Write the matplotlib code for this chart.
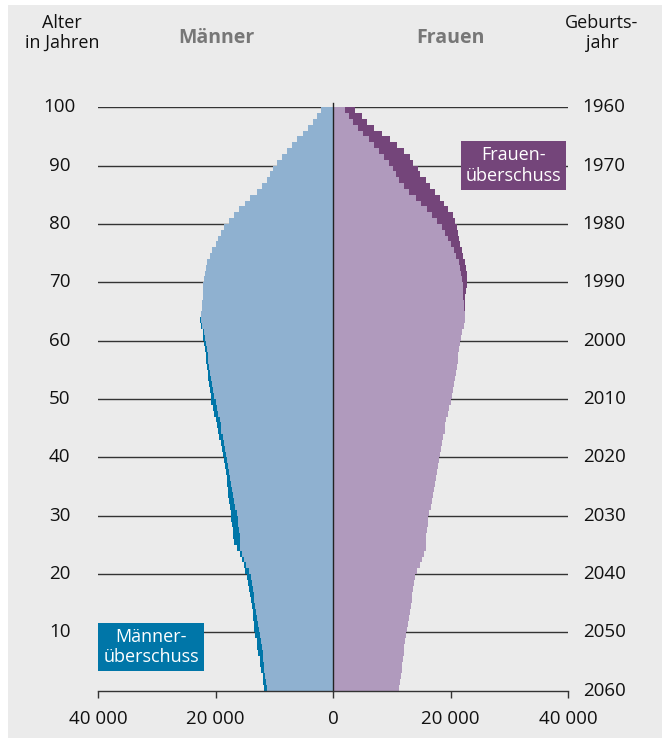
import numpy as np
import matplotlib.pyplot as plt
from matplotlib.patches import Rectangle

# Bevoelkerung 2060 nach Alter (0..99), in Tausend
ages = np.arange(0, 100)
maenner = [11.7, 11.9, 12.0, 12.2, 12.4, 12.5, 12.7, 12.9, 13.0, 13.2,
           13.4, 13.5, 13.6, 13.7, 13.8, 14.0, 14.2, 14.3, 14.5, 14.7,
           15.0, 15.1, 15.5, 15.9, 16.4, 16.9, 17.0, 17.1, 17.2, 17.3,
           17.4, 17.5, 17.7, 17.8, 17.9, 18.0, 18.1, 18.2, 18.3, 18.5,
           18.7, 18.9, 19.1, 19.4, 19.6, 19.8, 20.0, 20.3, 20.5, 20.7,
           20.8, 20.9, 21.1, 21.2, 21.3, 21.4, 21.6, 21.7, 21.8, 21.9,
           22.1, 22.2, 22.4, 22.6, 22.5, 22.3, 22.3, 22.2, 22.1, 22.1,
           22.0, 21.8, 21.7, 21.4, 21.0, 20.6, 20.0, 19.5, 19.1, 18.5,
           17.7, 16.8, 16.0, 15.0, 14.1, 13.0, 12.1, 11.3, 10.7, 10.2,
           9.5, 8.7, 7.9, 6.9, 6.1, 5.1, 4.2, 3.4, 2.7, 2.0]
frauen = [11.3, 11.4, 11.5, 11.7, 11.8, 11.9, 12.0, 12.1, 12.3, 12.4,
          12.6, 12.8, 13.0, 13.1, 13.2, 13.4, 13.5, 13.6, 13.8, 14.0,
          14.3, 14.8, 15.2, 15.5, 15.8, 15.9, 15.9, 16.0, 16.1, 16.2,
          16.4, 16.6, 16.8, 17.0, 17.2, 17.3, 17.5, 17.7, 17.8, 18.0,
          18.2, 18.4, 18.6, 18.7, 19.0, 19.1, 19.3, 19.5, 19.8, 20.0,
          20.3, 20.4, 20.6, 20.7, 20.9, 21.1, 21.2, 21.3, 21.4, 21.6,
          21.8, 22.0, 22.3, 22.5, 22.5, 22.5, 22.5, 22.5, 22.6, 22.8,
          22.8, 22.8, 22.6, 22.5, 22.2, 21.9, 21.7, 21.5, 21.3, 21.1,
          20.8, 20.5, 19.6, 18.9, 18.2, 17.4, 16.5, 15.8, 14.8, 14.5,
          13.7, 13.1, 12.1, 10.9, 9.7, 8.3, 7.0, 5.8, 4.9, 3.7]

age_ticks = [100, 90, 80, 70, 60, 50, 40, 30, 20, 10]
year_ticks = [1960, 1970, 1980, 1990, 2000, 2010, 2020, 2030, 2040, 2050, 2060]
x_ticks = [-40000, -20000, 0, 20000, 40000]
x_labels = ["40 000", "20 000", "0", "20 000", "40 000"]

m = np.array(maenner) * 1000
f = np.array(frauen) * 1000
both = np.minimum(m, f)

col_m_light = "#8fb1d0"
col_m_dark = "#0076a8"
col_f_light = "#b09abd"
col_f_dark = "#74457a"
bg = "#ebebeb"

plt.rcParams['font.family'] = ['Open Sans', 'DejaVu Sans']

W, H = 662, 738
fig = plt.figure(figsize=(W / 100, H / 100), dpi=100, facecolor="white")
fig.patches.append(Rectangle((8 / W, 0), 1, 1 - 5 / H, transform=fig.transFigure,
                             facecolor=bg, edgecolor="none", zorder=-10))

def fx(x):
    return x / W

def fy(y):
    return 1 - y / H

ax = fig.add_axes([fx(98), fy(690.7), fx(568) - fx(98), fy(107.3) - fy(690.7)])
ax.set_facecolor("none")
ax.set_xlim(-40000, 40000)
ax.set_ylim(0, 100)

# grid lines behind bars
for a in age_ticks:
    ax.plot([-40000, 40000], [a, a], color="#333333", lw=1, zorder=1)

y = ages + 0.5
ax.barh(y, -m, height=1.0, color=col_m_dark, linewidth=0, zorder=2)
ax.barh(y, -both, height=1.0, color=col_m_light, linewidth=0, zorder=3)
ax.barh(y, f, height=1.0, color=col_f_dark, linewidth=0, zorder=2)
ax.barh(y, both, height=1.0, color=col_f_light, linewidth=0, zorder=3)

ax.plot([0, 0], [0, 100.7], color="#222222", lw=1, zorder=5, clip_on=False)
ax.plot([-40000, 40000], [0, 0], color="#333333", lw=1, zorder=5, clip_on=False)

for s in ax.spines.values():
    s.set_visible(False)
ax.set_yticks([])
ax.set_xticks(x_ticks)
ax.set_xticklabels(x_labels, fontsize=13.5, color="#111111")
ax.tick_params(axis="x", length=5, width=1, color="#333333", pad=9)

# left age labels, right birth years
for a in age_ticks:
    ax.text(-46500, a, str(a), ha="center", va="center", fontsize=13.5, color="#111111")
for a, yr in zip(range(100, -1, -10), year_ticks):
    ax.text(42500, a, str(yr), ha="left", va="center", fontsize=13.5, color="#111111")

fig.text(fx(62), fy(33), "Alter\nin Jahren", ha="center", va="center", fontsize=13,
         linespacing=1.15, color="#111111")
fig.text(fx(602), fy(33), "Geburts-\njahr", ha="center", va="center", fontsize=13,
         linespacing=1.15, color="#111111")
fig.text(fx(216), fy(38), "Männer", ha="center", va="center", fontsize=14,
         fontweight="bold", color="#777777")
fig.text(fx(450), fy(38), "Frauen", ha="center", va="center", fontsize=14,
         fontweight="bold", color="#777777")

# Ueberschuss-Kaesten
fig.patches.append(Rectangle((fx(461), fy(190)), fx(566) - fx(461), fy(141) - fy(190),
                             transform=fig.transFigure, facecolor=col_f_dark,
                             edgecolor="none", zorder=5))
fig.text(fx(513.5), fy(165.5), "Frauen-\nüberschuss", ha="center", va="center",
         fontsize=13, linespacing=1.15, color="white", zorder=6)
fig.patches.append(Rectangle((fx(98), fy(671)), fx(204) - fx(98), fy(623) - fy(671),
                             transform=fig.transFigure, facecolor=col_m_dark,
                             edgecolor="none", zorder=5))
fig.text(fx(151), fy(647), "Männer-\nüberschuss", ha="center", va="center",
         fontsize=13, linespacing=1.15, color="white", zorder=6)

fig.savefig("out.png", dpi=100, facecolor="white")
